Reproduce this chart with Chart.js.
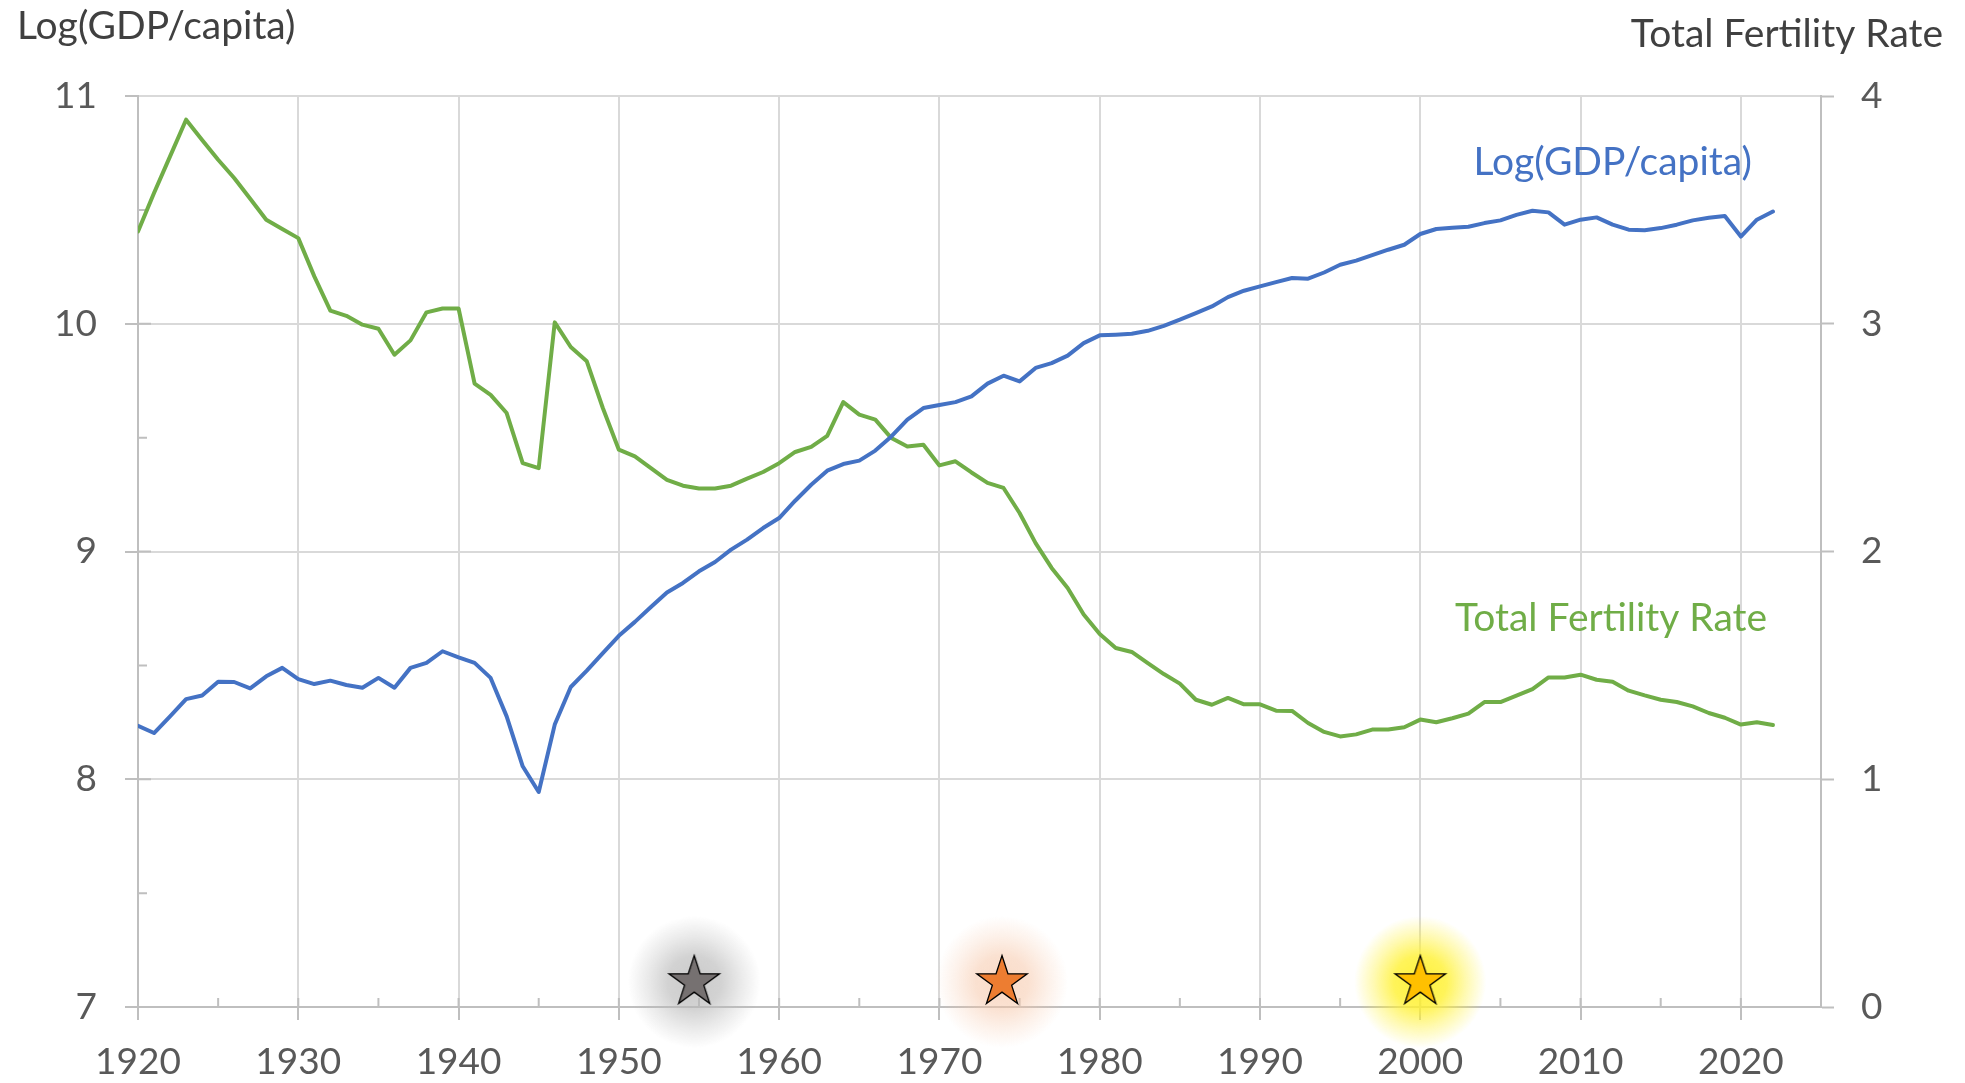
<!DOCTYPE html>
<html>
<head>
<meta charset="utf-8">
<script src="https://cdn.jsdelivr.net/npm/chart.js@4.4.0/dist/chart.umd.min.js"></script>
<style>
  html, body { margin: 0; padding: 0; background: #fff; }
  #wrap { width: 1965px; height: 1083px; }
</style>
</head>
<body>
<div id="wrap"><canvas id="grafico" width="1965" height="1083"></canvas></div>
<script>
// data, one value per year starting in 1920
var firstYear = 1920;

var logGdp = [
  8.235, 8.203, 8.276, 8.352, 8.368, 8.428, 8.427, 8.399, 8.452, 8.489,
  8.440, 8.418, 8.433, 8.414, 8.402, 8.445, 8.402, 8.489, 8.511, 8.562,
  8.535, 8.511, 8.445, 8.276, 8.057, 7.944, 8.240, 8.405, 8.477, 8.554,
  8.630, 8.691, 8.756, 8.820, 8.862, 8.913, 8.954, 9.008, 9.052, 9.103,
  9.147, 9.223, 9.293, 9.355, 9.384, 9.399, 9.443, 9.505, 9.579, 9.630,
  9.643, 9.656, 9.681, 9.737, 9.772, 9.747, 9.806, 9.827, 9.860, 9.915,
  9.949, 9.952, 9.956, 9.969, 9.991, 10.018, 10.047, 10.076, 10.117, 10.145,
  10.164, 10.183, 10.201, 10.198, 10.225, 10.259, 10.277, 10.301, 10.325, 10.347,
  10.394, 10.416, 10.421, 10.426, 10.442, 10.454, 10.478, 10.496, 10.489, 10.435,
  10.457, 10.467, 10.435, 10.413, 10.411, 10.420, 10.435, 10.454, 10.465, 10.473,
  10.383, 10.457, 10.493
];

var fertility = [
  3.405, 3.574, 3.735, 3.896, 3.807, 3.720, 3.640, 3.549, 3.457, 3.416,
  3.376, 3.208, 3.058, 3.035, 2.996, 2.978, 2.864, 2.927, 3.050, 3.067,
  3.067, 2.737, 2.688, 2.608, 2.388, 2.366, 3.006, 2.898, 2.835, 2.630,
  2.447, 2.418, 2.366, 2.315, 2.289, 2.277, 2.277, 2.289, 2.320, 2.349,
  2.388, 2.437, 2.459, 2.508, 2.656, 2.601, 2.579, 2.498, 2.461, 2.469,
  2.378, 2.396, 2.347, 2.301, 2.279, 2.169, 2.037, 1.928, 1.840, 1.723,
  1.638, 1.576, 1.559, 1.510, 1.462, 1.420, 1.349, 1.327, 1.357, 1.329,
  1.329, 1.301, 1.300, 1.247, 1.208, 1.188, 1.197, 1.218, 1.218, 1.228,
  1.262, 1.250, 1.268, 1.288, 1.339, 1.339, 1.367, 1.396, 1.447, 1.447,
  1.459, 1.437, 1.428, 1.389, 1.368, 1.349, 1.339, 1.320, 1.291, 1.270,
  1.240, 1.250, 1.238
];

// the three starred years, sitting just above the axis
var starYears  = [1954.7, 1973.9, 2000];
var starLevels = [7.11, 7.11, 7.11];
var starFills  = ['#767171', '#ED7D31', '#FFC000'];
var starGlows  = [[185, 185, 185, 0.75], [246, 196, 164, 0.6], [255, 241, 50, 0.95]];

var gdpLabel = 'Log(GDP/capita)';
var tfrLabel = 'Total Fertility Rate';

var blue = '#4472C4';
var green = '#70AD47';
var textGray = '#595959';
var fontFamily = 'Lato, "Open Sans", sans-serif';

function toPoints(values) {
    var pts = [];
    values.forEach(function (v, i) {
        pts.push({x: firstYear + i, y: v});
    });
    return pts;
}

function makeStar(fill, glow) {
    var size = 150, c = size / 2, gr = 66;
    var cv = document.createElement('canvas');
    cv.width = size;
    cv.height = size;
    var g = cv.getContext('2d');

    var rgb = glow.slice(0, 3).join(','), a0 = glow[3];
    var rg = g.createRadialGradient(c, c, 0, c, c, gr);
    rg.addColorStop(0, 'rgba(' + rgb + ',' + a0 + ')');
    rg.addColorStop(0.4, 'rgba(' + rgb + ',' + (a0 * 0.85) + ')');
    rg.addColorStop(0.7, 'rgba(' + rgb + ',' + (a0 * 0.4) + ')');
    rg.addColorStop(1, 'rgba(' + rgb + ',0)');
    g.fillStyle = rg;
    g.beginPath();
    g.arc(c, c, gr, 0, Math.PI * 2);
    g.fill();

    var R = 26.5, r = R * 0.382;
    g.beginPath();
    for (var i = 0; i < 10; i++) {
        var rad = (i % 2 == 0) ? R : r;
        var a = -Math.PI / 2 + i * Math.PI / 5;
        var px = c + rad * Math.cos(a), py = c + rad * Math.sin(a);
        if (i == 0) g.moveTo(px, py); else g.lineTo(px, py);
    }
    g.closePath();
    g.fillStyle = fill;
    g.fill();
    g.lineWidth = 1.3;
    g.strokeStyle = '#000';
    g.lineJoin = 'miter';
    g.stroke();
    return cv;
}

var starImages = starFills.map(function (f, i) { return makeStar(f, starGlows[i]); });
var starPoints = starYears.map(function (yr, i) { return {x: yr, y: starLevels[i]}; });

// minor ticks + inner half of the major ticks, and the free text
var decor = {
    id: 'decor',
    beforeDatasetsDraw: function (chart) {
        var ctx = chart.ctx, xs = chart.scales.x, ys = chart.scales.y;
        var area = chart.chartArea;
        ctx.save();
        ctx.strokeStyle = '#BFBFBF';
        ctx.lineWidth = 2;
        ctx.beginPath();
        for (var yr = xs.min; yr <= xs.max - 5; yr += 5) {
            var px = xs.getPixelForValue(yr);
            ctx.moveTo(px, area.bottom);
            ctx.lineTo(px, area.bottom - 9);
        }
        for (var v = ys.min + 0.5; v < ys.max; v += 0.5) {
            var py = ys.getPixelForValue(v);
            var len = (v % 1 == 0) ? 13 : 9;
            ctx.moveTo(area.left, py);
            ctx.lineTo(area.left + len, py);
        }
        ctx.stroke();
        ctx.restore();
    },
    afterDraw: function (chart) {
        var ctx = chart.ctx, xs = chart.scales.x, ys = chart.scales.y, y1 = chart.scales.y1;
        ctx.save();
        ctx.font = '39px ' + fontFamily;
        ctx.textBaseline = 'alphabetic';

        ctx.fillStyle = '#404040';
        ctx.textAlign = 'left';
        ctx.fillText(gdpLabel, 17, 39);
        ctx.textAlign = 'right';
        ctx.fillText(tfrLabel, chart.width - 22, 47);

        ctx.textAlign = 'center';
        ctx.fillStyle = blue;
        ctx.fillText(gdpLabel, xs.getPixelForValue(2012), ys.getPixelForValue(10.654));
        ctx.fillStyle = green;
        ctx.fillText(tfrLabel, xs.getPixelForValue(2011.9), y1.getPixelForValue(1.652));
        ctx.restore();
    }
};

var tickFont = {family: fontFamily, size: 37};

var myChart = new Chart(document.getElementById('grafico'), {
    type: 'line',
    data: {
        datasets: [
            {
                label: gdpLabel,
                data: toPoints(logGdp),
                yAxisID: 'y',
                borderColor: blue,
                backgroundColor: blue,
                borderWidth: 4,
                pointRadius: 0,
                borderJoinStyle: 'round',
                borderCapStyle: 'round'
            },
            {
                label: tfrLabel,
                data: toPoints(fertility),
                yAxisID: 'y1',
                borderColor: green,
                backgroundColor: green,
                borderWidth: 4,
                pointRadius: 0,
                borderJoinStyle: 'round',
                borderCapStyle: 'round'
            },
            {
                type: 'scatter',
                label: 'stars',
                data: starPoints,
                yAxisID: 'y',
                showLine: false,
                pointRadius: 5,
                pointStyle: function (c) { return starImages[c.dataIndex]; },
                clip: false,
                order: 5
            }
        ]
    },
    options: {
        responsive: false,
        animation: false,
        events: [],
        layout: {padding: {top: 96, left: 0, right: 0, bottom: 0}},
        plugins: {legend: {display: false}, tooltip: {enabled: false}},
        scales: {
            x: {
                type: 'linear',
                min: 1920,
                max: 2025,
                ticks: {
                    stepSize: 10,
                    includeBounds: false,
                    autoSkip: false,
                    maxRotation: 0,
                    padding: 20,
                    color: textGray,
                    font: tickFont,
                    callback: function (v) { return String(v); }
                },
                grid: {color: '#D9D9D9', lineWidth: 2, tickLength: 13, tickColor: '#BFBFBF', tickWidth: 2},
                border: {color: '#BFBFBF', width: 2},
                afterFit: function (s) { s.height = 76; }
            },
            y: {
                position: 'left',
                min: 7,
                max: 11,
                ticks: {stepSize: 1, padding: 28, color: textGray, font: tickFont},
                grid: {color: '#D9D9D9', lineWidth: 2, tickLength: 13, tickColor: '#BFBFBF', tickWidth: 2},
                border: {color: '#BFBFBF', width: 2},
                afterFit: function (s) { s.width = 138; }
            },
            y1: {
                position: 'right',
                min: 0,
                max: 4,
                ticks: {stepSize: 1, padding: 27, color: textGray, font: tickFont},
                grid: {drawOnChartArea: false, tickLength: 13, tickColor: '#BFBFBF', tickWidth: 2},
                border: {color: '#BFBFBF', width: 2},
                afterFit: function (s) { s.width = 144; }
            }
        }
    },
    plugins: [decor]
});
</script>
</body>
</html>
